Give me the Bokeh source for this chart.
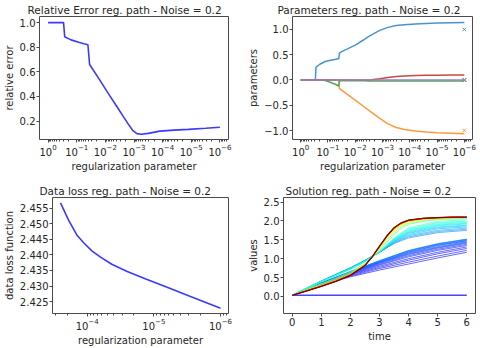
import numpy as np
from bokeh.plotting import figure
from bokeh.layouts import column, row
from bokeh.models import Range1d, FixedTicker, CustomJSTickFormatter
from bokeh.embed import file_html
from bokeh.resources import INLINE

# ---------------- data ----------------
# Panel 1: relative error along the regularization path
err_reg = [1.0, 0.2884, 0.2630, 0.1585, 0.0851, 0.0562, 0.0407, 0.0355, 0.0158,
           0.00794, 0.00398, 0.00229, 0.00158, 0.00112, 0.000794, 0.000562,
           0.000316, 0.000126, 3.98e-05, 1.26e-05, 3.16e-06, 1e-06]
rel_err = [1.0, 1.0, 0.885, 0.86, 0.84, 0.828, 0.82, 0.66, 0.535,
           0.425, 0.318, 0.232, 0.175, 0.125, 0.098, 0.093,
           0.100, 0.118, 0.126, 0.132, 0.141, 0.15]

# Panel 2: parameters along the regularization path
par_reg = [1.0, 0.2884, 0.2754, 0.1995, 0.1259, 0.0794, 0.0562, 0.0398, 0.0380,
           0.0316, 0.0200, 0.0100, 0.00501, 0.00316, 0.00251, 0.00126, 0.000631,
           0.000316, 0.000158, 6.31e-05, 2.51e-05, 1e-05, 3.16e-06, 1e-06]
param_1 = [0, 0, 0.25, 0.31, 0.365, 0.39, 0.405, 0.425, 0.53, 0.56, 0.61, 0.69,
           0.79, 0.86, 0.89, 0.98, 1.04, 1.075, 1.09, 1.105, 1.115, 1.125, 1.13, 1.135]
param_2 = [0, 0, 0, 0, 0, 0, 0, 0, -0.17, -0.20, -0.28, -0.40, -0.52, -0.60,
           -0.64, -0.76, -0.87, -0.94, -0.98, -1.01, -1.03, -1.045, -1.055, -1.065]
param_3 = [0, 0, 0, 0, -0.01, -0.05, -0.08, -0.12, -0.015, -0.015, -0.015, -0.017,
           -0.018, -0.019, -0.019, -0.02, -0.02, -0.02, -0.02, -0.02, -0.02, -0.02,
           -0.02, -0.02]
param_4 = [0, 0, 0, 0, 0, 0, 0, 0, 0, 0, 0, 0, 0, 0, 0.005, 0.025, 0.05, 0.068,
           0.078, 0.086, 0.091, 0.095, 0.098, 0.10]
param_5 = [0] * 24
true_params = [1.0, -1.0, 0.0, 0.0, 0.0]

# Panel 3: data loss along the regularization path
loss_reg = [2.51e-04, 1.91e-04, 1.41e-04, 1.12e-04, 8.51e-05, 6.31e-05, 4.27e-05,
            2.51e-05, 1.29e-05, 6.46e-06, 2.88e-06, 1e-06]
data_loss = [2.4567, 2.4512, 2.4462, 2.4438, 2.4413, 2.4393, 2.4370,
             2.4347, 2.4322, 2.4297, 2.4267, 2.4229]

# Panel 4: solutions along the regularization path
t_zero = [0, 6]
sol_zero = [0.03, 0.03]

t_blue = [0, 1, 2, 3, 4, 5, 6]
sol_blue = [
    [0.03, 0.30, 0.52, 0.70, 0.86, 1.02, 1.17],
    [0.03, 0.31, 0.54, 0.74, 0.91, 1.07, 1.22],
    [0.03, 0.32, 0.56, 0.77, 0.96, 1.13, 1.27],
    [0.03, 0.32, 0.58, 0.80, 1.00, 1.17, 1.31],
    [0.03, 0.33, 0.59, 0.83, 1.05, 1.22, 1.35],
    [0.03, 0.34, 0.60, 0.85, 1.08, 1.25, 1.38],
    [0.03, 0.34, 0.62, 0.87, 1.11, 1.28, 1.41],
    [0.03, 0.34, 0.62, 0.89, 1.13, 1.30, 1.43],
    [0.03, 0.35, 0.63, 0.90, 1.15, 1.32, 1.45],
    [0.03, 0.35, 0.64, 0.91, 1.17, 1.35, 1.47],
    [0.03, 0.35, 0.64, 0.92, 1.18, 1.36, 1.48],
    [0.03, 0.36, 0.65, 0.94, 1.20, 1.38, 1.50],
    [0.03, 0.36, 0.66, 0.94, 1.21, 1.39, 1.51],
    [0.03, 0.36, 0.66, 0.95, 1.22, 1.40, 1.52],
]

t_cyan = [0, 1, 2, 2.5, 3, 3.5, 4, 5, 6]
sol_cyan = [
    [0.03, 0.41, 0.76, 0.96, 1.17, 1.40, 1.55, 1.69, 1.75],
    [0.03, 0.41, 0.76, 0.96, 1.17, 1.42, 1.58, 1.72, 1.78],
    [0.03, 0.41, 0.75, 0.95, 1.17, 1.43, 1.61, 1.75, 1.81],
    [0.03, 0.40, 0.75, 0.95, 1.17, 1.45, 1.64, 1.79, 1.84],
    [0.03, 0.40, 0.74, 0.94, 1.17, 1.46, 1.67, 1.82, 1.87],
    [0.03, 0.40, 0.74, 0.94, 1.18, 1.48, 1.69, 1.84, 1.89],
    [0.03, 0.40, 0.74, 0.94, 1.18, 1.49, 1.71, 1.87, 1.92],
    [0.03, 0.40, 0.73, 0.93, 1.18, 1.50, 1.73, 1.89, 1.94],
    [0.03, 0.39, 0.73, 0.93, 1.18, 1.51, 1.75, 1.91, 1.96],
    [0.03, 0.39, 0.73, 0.93, 1.18, 1.52, 1.77, 1.94, 1.98],
    [0.03, 0.39, 0.72, 0.92, 1.18, 1.53, 1.79, 1.96, 2.00],
    [0.03, 0.39, 0.72, 0.92, 1.18, 1.55, 1.82, 1.99, 2.03],
]

t_conv = [0, 0.5, 1, 1.5, 2, 2.5, 2.75, 3, 3.25, 3.5, 3.75, 4, 4.5, 5, 5.5, 6]
sol_conv = [
    [0.03, 0.19, 0.34, 0.49, 0.65, 0.87, 1.02, 1.21, 1.43, 1.64, 1.80, 1.91, 1.99, 2.03, 2.05, 2.06],
    [0.03, 0.18, 0.33, 0.47, 0.63, 0.86, 1.03, 1.24, 1.48, 1.69, 1.85, 1.94, 2.01, 2.05, 2.07, 2.08],
    [0.03, 0.17, 0.31, 0.45, 0.61, 0.85, 1.04, 1.27, 1.52, 1.73, 1.88, 1.97, 2.03, 2.06, 2.08, 2.09],
    [0.03, 0.16, 0.30, 0.43, 0.59, 0.84, 1.04, 1.29, 1.55, 1.76, 1.90, 1.99, 2.05, 2.07, 2.09, 2.09],
    [0.03, 0.16, 0.29, 0.42, 0.58, 0.83, 1.04, 1.30, 1.57, 1.78, 1.92, 2.00, 2.05, 2.08, 2.09, 2.09],
    [0.03, 0.16, 0.28, 0.41, 0.57, 0.83, 1.05, 1.31, 1.58, 1.80, 1.93, 2.01, 2.06, 2.08, 2.09, 2.10],
    [0.03, 0.15, 0.28, 0.41, 0.57, 0.82, 1.05, 1.32, 1.59, 1.81, 1.94, 2.01, 2.06, 2.08, 2.10, 2.10],
    [0.03, 0.15, 0.27, 0.40, 0.56, 0.82, 1.05, 1.32, 1.59, 1.81, 1.94, 2.02, 2.07, 2.09, 2.10, 2.10],
    [0.03, 0.15, 0.27, 0.40, 0.56, 0.82, 1.05, 1.33, 1.60, 1.82, 1.95, 2.02, 2.07, 2.09, 2.10, 2.10],
    [0.03, 0.15, 0.27, 0.40, 0.56, 0.82, 1.05, 1.33, 1.60, 1.82, 1.95, 2.02, 2.07, 2.09, 2.10, 2.10],
]

# ---------------- style helpers ----------------
FONT = "DejaVu Sans"
INK = "#262626"


def jet(x):
    r = np.interp(x, [0, 0.35, 0.66, 0.89, 1.0], [0, 0, 1, 1, 0.5])
    g = np.interp(x, [0, 0.125, 0.375, 0.64, 0.91, 1.0], [0, 0, 1, 1, 0, 0])
    b = np.interp(x, [0, 0.11, 0.34, 0.65, 1.0], [0.5, 1, 1, 0, 0])
    return "#%02x%02x%02x" % (int(r * 255), int(g * 255), int(b * 255))


def make_fig(title, xr, yr, log, borders, title_offset):
    l, r, t, b = borders
    kw = dict(x_axis_type="log") if log else {}
    p = figure(width=240, height=174, title=title, x_range=xr, y_range=yr,
               output_backend="svg", toolbar_location=None,
               min_border_left=l, min_border_right=r, min_border_top=t,
               min_border_bottom=b, **kw)
    p.title.text_font = FONT
    p.title.text_font_size = "10.5px"
    p.title.text_font_style = "normal"
    p.title.text_color = INK
    p.title.align = "left"
    p.title.offset = title_offset
    p.title.standoff = 2
    p.outline_line_color = "#4a4a4a"
    p.outline_line_width = 1
    p.outline_line_alpha = 1
    p.xgrid.visible = False
    p.ygrid.visible = False
    for ax in p.axis:
        ax.axis_line_color = None
        ax.major_tick_line_color = "#4a4a4a"
        ax.minor_tick_line_color = "#4a4a4a"
        ax.major_tick_out = 3
        ax.major_tick_in = 0
        ax.minor_tick_out = 2
        ax.minor_tick_in = 0
        ax.major_label_text_font = FONT
        ax.major_label_text_font_size = "10px"
        ax.major_label_text_color = INK
        ax.axis_label_text_font = FONT
        ax.axis_label_text_font_size = "10px"
        ax.axis_label_text_font_style = "normal"
        ax.axis_label_text_color = INK
        ax.axis_label_standoff = 2
        ax.major_label_standoff = 1
    return p


# ---------------- panel 1 ----------------
p1 = make_fig("Relative Error reg. path - Noise = 0.2",
              Range1d(10 ** 0.3, 10 ** -6.3), Range1d(0.05, 1.05), True,
              (39, 12, 16, 33), -12)
p1.line(err_reg, rel_err, line_color="#3a3aff", line_width=1.6)
p1.yaxis.ticker = FixedTicker(ticks=[0.2, 0.4, 0.6, 0.8, 1.0], minor_ticks=[])
p1.yaxis.formatter = CustomJSTickFormatter(code="return tick.toFixed(1);")
p1.xaxis.axis_label = "regularization parameter"
p1.yaxis.axis_label = "relative error"

# ---------------- panel 2 ----------------
p2 = make_fig("Parameters reg. path - Noise = 0.2",
              Range1d(10 ** 0.3, 10 ** -6.3), Range1d(-1.178, 1.255), True,
              (52, 8, 16, 32), -15)
tab = ["#4b93c9", "#ff9a3c", "#4caf4c", "#c44a48", "#9a80c4"]
for vals, c in zip([param_1, param_2, param_3, param_4, param_5], tab):
    p2.line(par_reg, vals, line_color=c, line_width=1.5)
for tv, c in zip(true_params, tab):
    p2.scatter([par_reg[-1]], [tv], marker="x", size=5, line_color=c, line_width=1)
p2.yaxis.ticker = FixedTicker(ticks=[-1.0, -0.5, 0.0, 0.5, 1.0], minor_ticks=[])
p2.yaxis.formatter = CustomJSTickFormatter(
    code="return tick.toFixed(1).replace('-', '\\u2212');")
p2.xaxis.axis_label = "regularization parameter"
p2.yaxis.axis_label = "parameters"

# ---------------- panel 3 ----------------
p3 = make_fig("Data loss reg. path - Noise = 0.2",
              Range1d(10 ** -3.48, 10 ** -6.12), Range1d(2.4212, 2.4584), True,
              (50, 12, 23, 28), -13)
p3.line(loss_reg, data_loss, line_color="#3a3aff", line_width=1.6)
p3.yaxis.ticker = FixedTicker(ticks=[2.425, 2.430, 2.435, 2.440, 2.445, 2.450, 2.455],
                              minor_ticks=[])
p3.yaxis.formatter = CustomJSTickFormatter(code="return tick.toFixed(3);")
p3.xaxis.axis_label = "regularization parameter"
p3.yaxis.axis_label = "data loss function"

# ---------------- panel 4 ----------------
p4 = make_fig("Solution reg. path - Noise = 0.2",
              Range1d(-0.3, 6.3), Range1d(-0.45, 2.62), False,
              (43, 5, 21, 29), 2)
p4.line(t_zero, sol_zero, line_color="#4646ff", line_width=1.5)
nb = len(sol_blue)
p4.multi_line([t_blue] * nb, sol_blue,
              line_color=[jet(0.10 + 0.145 * i / (nb - 1)) for i in range(nb)],
              line_width=0.6)
nc = len(sol_cyan)
p4.multi_line([t_cyan] * nc, sol_cyan,
              line_color=[jet(0.26 + 0.16 * i / (nc - 1)) for i in range(nc)],
              line_width=0.6)
conv_pos = [0.45, 0.52, 0.58, 0.64, 0.70, 0.76, 0.82, 0.88, 0.94, 1.0]
p4.multi_line([t_conv] * len(sol_conv), sol_conv,
              line_color=[jet(x) for x in conv_pos],
              line_width=[0.7] * 9 + [1.3])
p4.xaxis.ticker = FixedTicker(ticks=[0, 1, 2, 3, 4, 5, 6], minor_ticks=[])
p4.yaxis.ticker = FixedTicker(ticks=[0.0, 0.5, 1.0, 1.5, 2.0, 2.5], minor_ticks=[])
p4.yaxis.formatter = CustomJSTickFormatter(code="return tick.toFixed(1);")
p4.xaxis.axis_label = "time"
p4.yaxis.axis_label = "values"

layout = column(row(p1, p2, spacing=0), row(p3, p4, spacing=0), spacing=0)

with open("out.html", "w") as f:
    f.write(file_html(layout, INLINE))
